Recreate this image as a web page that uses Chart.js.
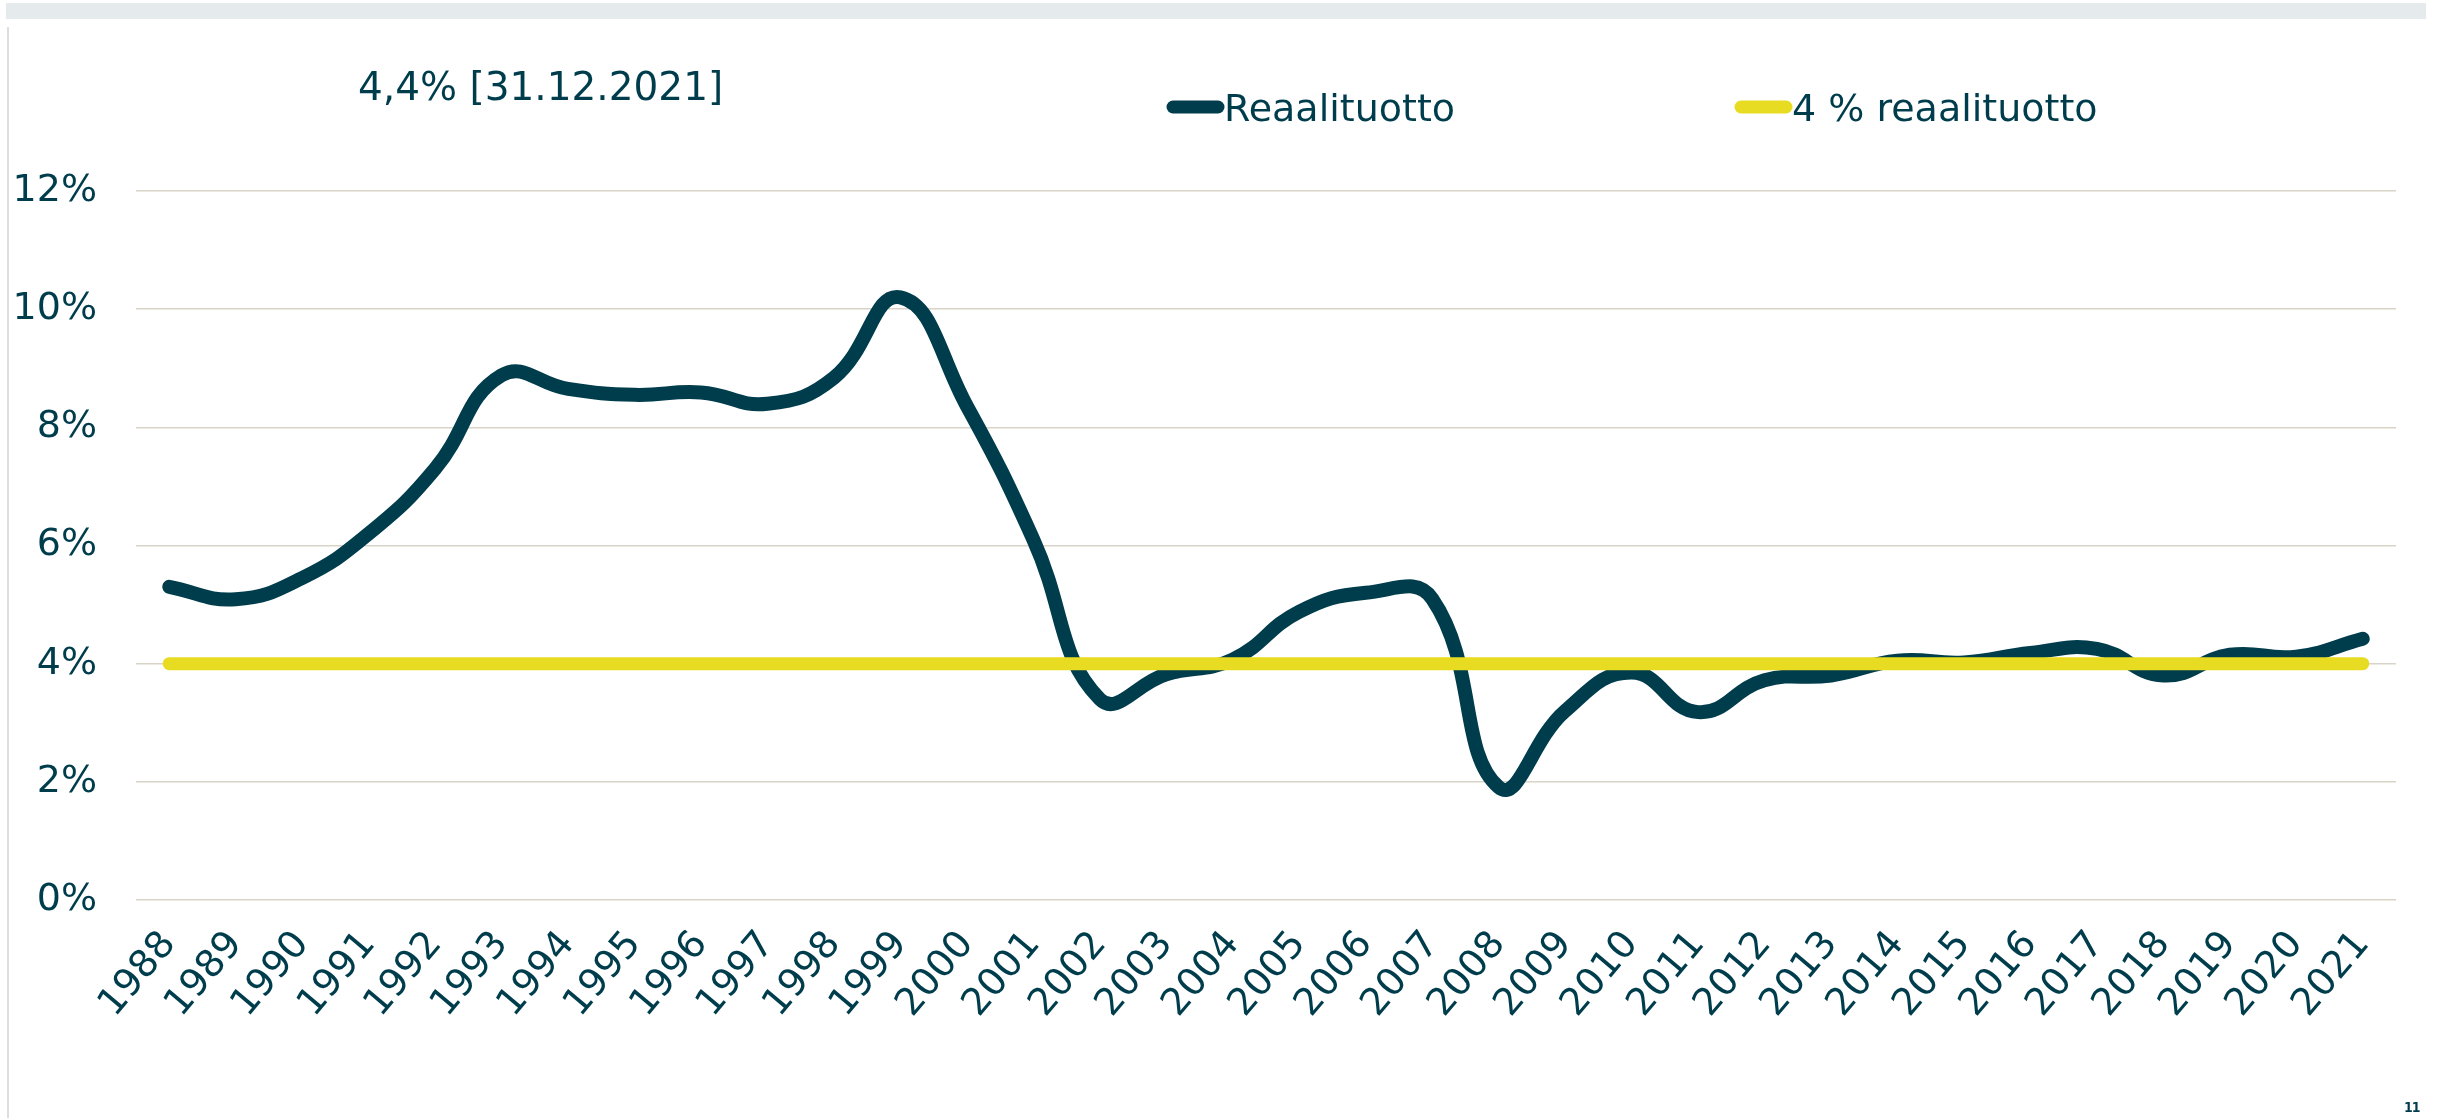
<!DOCTYPE html>
<html>
<head>
<meta charset="utf-8">
<script src="https://cdn.jsdelivr.net/npm/chart.js@4.4.1/dist/chart.umd.min.js"></script>
<style>
  html, body { margin: 0; padding: 0; background: #fff; }
  #wrap { position: relative; width: 2440px; height: 1118px; overflow: hidden; }
  #topbar { position: absolute; left: 6px; top: 3px; width: 2420px; height: 16px; background: #e5eaed; }
  #edge { position: absolute; left: 7px; top: 27px; width: 2px; height: 1091px; background: #dedede; }
  #page { position: absolute; left: 2404px; top: 1099px; font: bold 14px "DejaVu Sans Condensed", "DejaVu Sans"; color: #003d4c; letter-spacing: -1px; }
  canvas { position: absolute; left: 0; top: 0; }
</style>
</head>
<body>
<div id="wrap">
  <div id="topbar"></div>
  <div id="edge"></div>
  <canvas id="chart" width="2440" height="1118"></canvas>
  <div id="page">11</div>
</div>
<script>
// data
const years = ['1988', '1989', '1990', '1991', '1992', '1993', '1994', '1995', '1996', '1997',
  '1998', '1999', '2000', '2001', '2002', '2003', '2004', '2005', '2006', '2007',
  '2008', '2009', '2010', '2011', '2012', '2013', '2014', '2015', '2016', '2017',
  '2018', '2019', '2020', '2021'];
const realReturn = [5.30, 5.09, 5.45, 6.2, 7.3, 8.88, 8.65, 8.55, 8.59, 8.4,
  8.84, 10.2, 8.36, 6.1, 3.4, 3.82, 4.07, 4.88, 5.2, 5.1,
  1.91, 3.2, 3.85, 3.18, 3.72, 3.8, 4.05, 4.02, 4.18, 4.25,
  3.8, 4.15, 4.12, 4.42];
const targetReturn = [4, 4, 4, 4, 4, 4, 4, 4, 4, 4,
  4, 4, 4, 4, 4, 4, 4, 4, 4, 4,
  4, 4, 4, 4, 4, 4, 4, 4, 4, 4,
  4, 4, 4, 4];
const seriesNames = ['Reaalituotto', '4 % reaalituotto'];
const headline = '4,4% [31.12.2021]';

const textColor = '#003d4c';
const darkColor = '#003d4c';
const yellowColor = '#e8dc22';
const fontFamily = '"DejaVu Sans", Verdana, sans-serif';

// title text and legend keys, placed like in the slide
const headerPlugin = {
  id: 'header',
  afterDraw(chart) {
    const ctx = chart.ctx;
    ctx.save();
    ctx.fillStyle = textColor;
    ctx.textBaseline = 'alphabetic';
    ctx.textAlign = 'left';
    ctx.font = '39px ' + fontFamily;
    ctx.fillText(headline, 358, 100);

    ctx.font = '38px ' + fontFamily;
    const slots = [1167, 1735];
    chart.data.datasets.forEach((ds, i) => {
      const x = slots[i];
      ctx.beginPath();
      ctx.lineCap = 'round';
      ctx.lineWidth = 13;
      ctx.strokeStyle = ds.borderColor;
      ctx.moveTo(x + 6, 107);
      ctx.lineTo(x + 51, 107);
      ctx.stroke();
      ctx.fillStyle = textColor;
      ctx.fillText(ds.label, x + 57, 121);
    });
    ctx.restore();
  }
};

const ctx = document.getElementById('chart').getContext('2d');
new Chart(ctx, {
  type: 'line',
  data: {
    labels: years,
    datasets: [{
      label: seriesNames[0],
      data: realReturn,
      borderColor: darkColor,
      borderWidth: 14,
      tension: 0.45,
      borderCapStyle: 'round',
      borderJoinStyle: 'round',
      pointRadius: 0,
      fill: false,
      order: 1
    }, {
      label: seriesNames[1],
      data: targetReturn,
      borderColor: yellowColor,
      borderWidth: 13,
      borderCapStyle: 'round',
      pointRadius: 0,
      fill: false,
      order: 0
    }]
  },
  options: {
    responsive: false,
    animation: false,
    devicePixelRatio: 1,
    layout: { padding: { top: 191, right: 44, left: 0, bottom: 0 } },
    plugins: {
      legend: { display: false },
      tooltip: { enabled: false }
    },
    scales: {
      x: {
        offset: true,
        grid: { display: false, drawTicks: false },
        border: { display: false },
        ticks: {
          color: textColor,
          font: { family: fontFamily, size: 38 },
          minRotation: 50,
          maxRotation: 50,
          autoSkip: false,
          padding: 23
        },
        afterFit: function (scale) { scale.height = 218; }
      },
      y: {
        min: 0,
        max: 12,
        grid: { color: '#d9d4c8', lineWidth: 1.5, drawTicks: false },
        border: { display: false },
        ticks: {
          stepSize: 2,
          color: textColor,
          font: { family: fontFamily, size: 38 },
          padding: 39,
          callback: function (v) { return v + '%'; }
        },
        afterFit: function (scale) { scale.width = 136; }
      }
    }
  },
  plugins: [headerPlugin]
});
</script>
</body>
</html>
